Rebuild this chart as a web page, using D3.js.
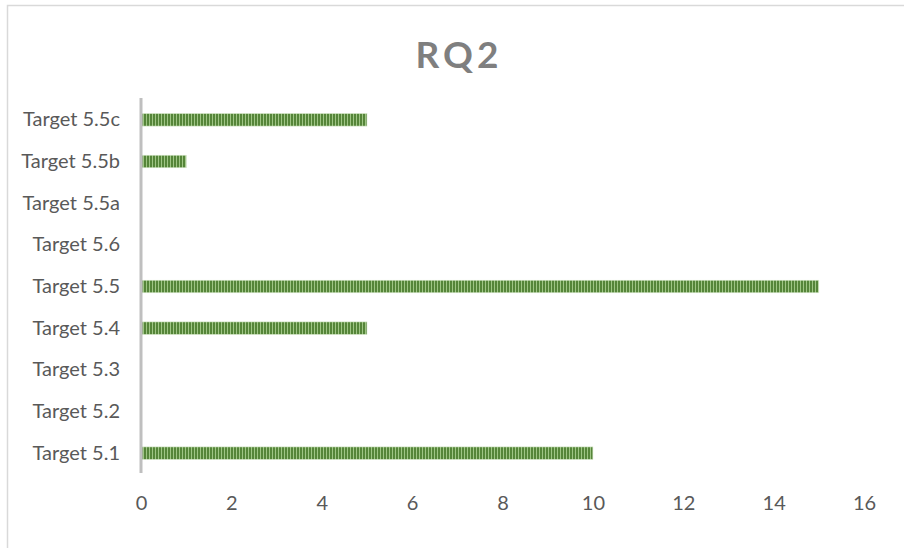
<!DOCTYPE html>
<html>
<head>
<meta charset="utf-8">
<script src="https://cdn.jsdelivr.net/npm/d3@7"></script>
<style>
  body { margin: 0; background: #fff; }
  svg { display: block; }
</style>
</head>
<body>
<div id="chart"></div>
<script>
// Data
const categories = ['Target 5.1', 'Target 5.2', 'Target 5.3', 'Target 5.4', 'Target 5.5',
    'Target 5.6', 'Target 5.5a', 'Target 5.5b', 'Target 5.5c'];
const values = [10, 0, 0, 5, 15, 0, 0, 1, 5];
const xTicks = [0, 2, 4, 6, 8, 10, 12, 14, 16];

const width = 904, height = 548;
const fontFamily = 'Lato, "Open Sans", sans-serif';

const svg = d3.select('#chart')
    .append('svg')
    .attr('width', width)
    .attr('height', height);

// stripe pattern for the bars
const defs = svg.append('defs');
const pat = defs.append('pattern')
    .attr('id', 'stripes')
    .attr('patternUnits', 'userSpaceOnUse')
    .attr('width', 3)
    .attr('height', 10);
pat.append('rect').attr('width', 3).attr('height', 10).attr('fill', '#9fc585');
pat.append('rect').attr('width', 2).attr('height', 10).attr('fill', '#558539');

// outer border
svg.append('rect')
    .attr('x', 7.5).attr('y', 5.5)
    .attr('width', 910).attr('height', 560)
    .attr('fill', 'none')
    .attr('stroke', '#d9d9d9')
    .attr('stroke-width', 1.5);

// Title
svg.append('text')
    .attr('x', 459)
    .attr('y', 68)
    .attr('text-anchor', 'middle')
    .style('font-family', fontFamily)
    .style('font-size', '37px')
    .style('font-weight', 'bold')
    .style('letter-spacing', '4px')
    .style('fill', '#7f7f7f')
    .text('RQ2');

const x = d3.scaleLinear().domain([0, 16]).range([141, 864]);
const y = d3.scaleBand()
    .domain(categories.slice().reverse())
    .range([99, 474])
    .paddingInner(0.7)
    .paddingOuter(0.35);

// Bars
svg.append('g')
    .selectAll('rect')
    .data(categories.map((c, i) => ({ c, v: values[i] })).filter(d => d.v > 0))
    .enter().append('rect')
    .attr('x', x(0) + 1)
    .attr('y', d => y(d.c))
    .attr('width', d => x(d.v) - x(0) - 1)
    .attr('height', y.bandwidth())
    .attr('fill', 'url(#stripes)')
    .attr('stroke', '#d3e5c6')
    .attr('stroke-width', 0.6);

// Y axis labels
const yAxis = svg.append('g')
    .attr('transform', `translate(${x(0)},0)`)
    .call(d3.axisLeft(y).tickSize(0).tickPadding(21));
yAxis.select('.domain').remove();
yAxis.selectAll('text')
    .style('font-family', fontFamily)
    .style('font-size', '20px')
    .style('fill', '#595959');

// vertical axis line
svg.append('line')
    .attr('x1', x(0)).attr('x2', x(0))
    .attr('y1', 98).attr('y2', 473)
    .attr('stroke', '#bfbfbf')
    .attr('stroke-width', 3);

// X axis labels
const xAxis = svg.append('g')
    .attr('transform', 'translate(0,490)')
    .call(d3.axisBottom(x).tickValues(xTicks).tickSize(0).tickPadding(6).tickFormat(d3.format('d')));
xAxis.select('.domain').remove();
xAxis.selectAll('text')
    .style('font-family', fontFamily)
    .style('font-size', '20px')
    .style('fill', '#595959');
</script>
</body>
</html>
